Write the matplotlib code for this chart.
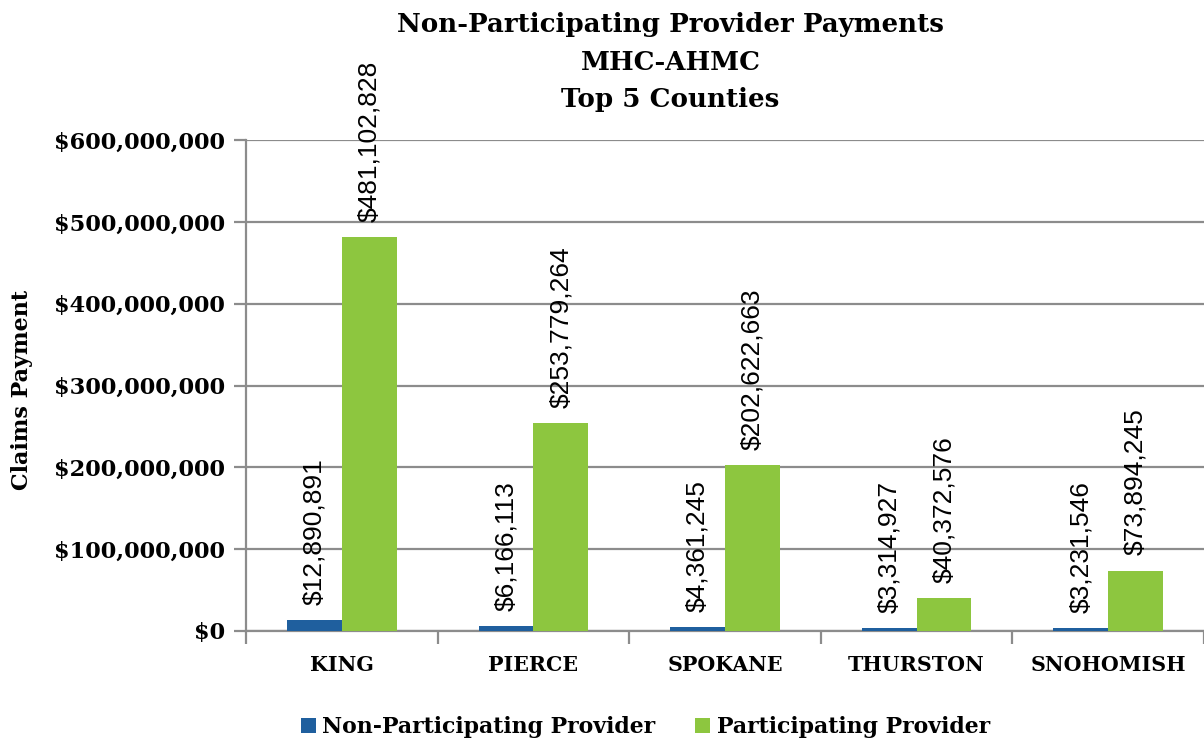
import matplotlib
matplotlib.use("Agg")
import matplotlib.pyplot as plt
from matplotlib.ticker import FuncFormatter, FixedLocator
import numpy as np

counties = ["KING", "PIERCE", "SPOKANE", "THURSTON", "SNOHOMISH"]
non_participating = [12890891, 6166113, 4361245, 3314927, 3231546]
participating = [481102828, 253779264, 202622663, 40372576, 73894245]
series_names = ["Non-Participating Provider", "Participating Provider"]
title_lines = ["Non-Participating Provider Payments", "MHC-AHMC", "Top 5 Counties"]

blue = "#1F5F9E"
green = "#8DC63F"
grid_gray = "#8C8C8C"
serif = "DejaVu Serif"
sans = "Liberation Sans"

fig = plt.figure(figsize=(12.04, 7.42), dpi=100)
ax = fig.add_axes([246/1204, (742-631)/742, 958/1204, (631-140)/742])

x = np.arange(len(counties))
w = 0.286
b1 = ax.bar(x - w/2, non_participating, w, color=blue, label=series_names[0], zorder=3)
b2 = ax.bar(x + w/2, participating, w, color=green, label=series_names[1], zorder=3)

for bars, vals in ((b1, non_participating), (b2, participating)):
    for r, v in zip(bars, vals):
        ax.annotate(f"${v:,.0f}", (r.get_x() + r.get_width()/2, v),
                    xytext=(0, 11), textcoords="offset points",
                    rotation=90, ha="center", va="bottom",
                    fontsize=19, family=sans, color="black", zorder=4)

ax.set_ylim(0, 600000000)
ax.set_xlim(-0.5, len(counties) - 0.5)
ax.yaxis.set_major_locator(FixedLocator(np.arange(0, 600000001, 100000000)))
ax.yaxis.set_major_formatter(FuncFormatter(lambda v, p: f"${v:,.0f}"))
ax.grid(axis="y", color=grid_gray, linewidth=1.6, zorder=0)
ax.set_axisbelow(True)

ax.set_xticks(x)
ax.set_xticklabels(counties, family=serif, fontweight="bold", fontsize=14.8)
ax.set_xticks(np.arange(-0.5, len(counties)), minor=True)
ax.tick_params(axis="x", which="major", length=0, pad=17)
ax.tick_params(axis="x", which="minor", length=9, width=1.6, color=grid_gray, direction="out")
ax.tick_params(axis="y", which="major", length=9, width=1.6, color=grid_gray, direction="out", pad=6)
for lab in ax.get_yticklabels():
    lab.set_family(serif)
    lab.set_fontweight("bold")
    lab.set_fontsize(16.2)

for s in ("top", "right"):
    ax.spines[s].set_visible(False)
for s in ("left", "bottom"):
    ax.spines[s].set_color(grid_gray)
    ax.spines[s].set_linewidth(1.6)

ax.set_ylabel("Claims Payment", family=serif, fontweight="bold", fontsize=16)
ax.yaxis.set_label_coords(-0.222, 0.49)

fig.text(0.557, 0.984, "\n".join(title_lines), ha="center", va="top",
         family=serif, fontweight="bold", fontsize=18.8, linespacing=1.64)

fig.legend(loc="center", bbox_to_anchor=(0.536, 0.02), ncol=2, frameon=False,
           prop={"family": serif, "weight": "bold", "size": 15.8},
           handlelength=0.7, handleheight=0.7, handletextpad=0.3, columnspacing=1.8)

fig.savefig("out.png", dpi=100)
